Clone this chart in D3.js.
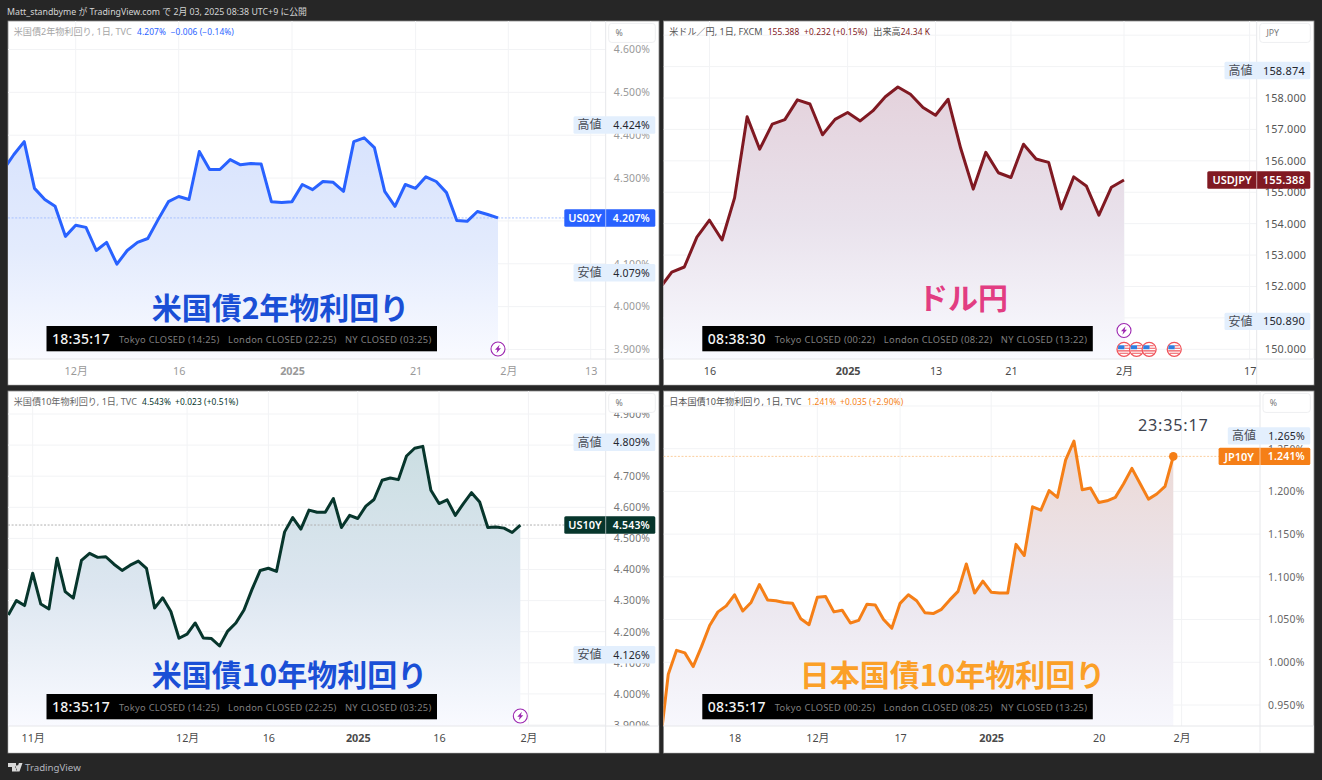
<!DOCTYPE html>
<html lang="ja">
<head>
<meta charset="utf-8">
<title>Yields and USDJPY</title>
<script src="https://cdn.jsdelivr.net/npm/d3@7"></script>
<style>
  html, body { margin: 0; padding: 0; background: #262626; }
  svg { display: block; }
  text { font-family: "Noto Sans", "Noto Sans CJK JP", sans-serif; }
  .big { font-family: "Noto Sans CJK JP", sans-serif; font-weight: 700; }
</style>
</head>
<body>
<svg id="chart" width="1322" height="780"></svg>
<script>
"use strict";

// --- 1. DATA ---
const us02yValues = [4.320, 4.355, 4.385, 4.276, 4.250, 4.234, 4.164, 4.190, 4.185, 4.131, 4.150, 4.099, 4.131, 4.150, 4.159, 4.203, 4.245, 4.257, 4.250, 4.362, 4.320, 4.320, 4.343, 4.331, 4.334, 4.333, 4.245, 4.243, 4.245, 4.285, 4.273, 4.292, 4.290, 4.269, 4.385, 4.394, 4.371, 4.269, 4.234, 4.285, 4.276, 4.303, 4.292, 4.266, 4.201, 4.199, 4.222, 4.215, 4.207];
const usdjpyValues = [151.92, 152.46, 152.62, 153.57, 154.11, 153.48, 154.82, 157.40, 156.37, 157.17, 157.31, 157.94, 157.81, 156.83, 157.32, 157.54, 157.27, 157.59, 158.04, 158.35, 158.12, 157.70, 157.45, 157.96, 156.40, 155.10, 156.27, 155.62, 155.47, 156.53, 156.06, 155.95, 154.47, 155.49, 155.20, 154.27, 155.16, 155.388];
const us10yValues = [4.254, 4.300, 4.284, 4.388, 4.289, 4.273, 4.436, 4.329, 4.308, 4.429, 4.452, 4.439, 4.441, 4.417, 4.397, 4.414, 4.427, 4.404, 4.276, 4.309, 4.265, 4.179, 4.192, 4.228, 4.180, 4.178, 4.154, 4.202, 4.228, 4.270, 4.337, 4.397, 4.404, 4.394, 4.521, 4.567, 4.530, 4.591, 4.584, 4.584, 4.628, 4.535, 4.574, 4.564, 4.604, 4.625, 4.687, 4.694, 4.689, 4.765, 4.790, 4.796, 4.655, 4.612, 4.624, 4.574, 4.612, 4.647, 4.617, 4.535, 4.537, 4.533, 4.519, 4.543];
const jp10yValues = [0.903, 0.986, 1.014, 1.011, 0.995, 1.018, 1.043, 1.059, 1.066, 1.079, 1.060, 1.070, 1.091, 1.073, 1.072, 1.070, 1.069, 1.051, 1.044, 1.076, 1.077, 1.059, 1.061, 1.046, 1.049, 1.068, 1.067, 1.050, 1.040, 1.069, 1.079, 1.072, 1.058, 1.057, 1.062, 1.073, 1.083, 1.115, 1.081, 1.095, 1.082, 1.081, 1.081, 1.138, 1.125, 1.182, 1.178, 1.201, 1.193, 1.237, 1.259, 1.202, 1.204, 1.187, 1.189, 1.193, 1.209, 1.227, 1.209, 1.191, 1.197, 1.206, 1.241];

// labelled price ticks, and levels that only get a grid line (their labels sit under the tags)
const us02yPriceTicks = [3.9, 4.0, 4.1, 4.3, 4.4, 4.5, 4.6];
const us02yGridOnly = [4.2];
const usdjpyPriceTicks = [150, 152, 153, 154, 155, 156, 157, 158];
const usdjpyGridOnly = [151, 159, 160];
const us10yPriceTicks = [3.9, 4.0, 4.1, 4.2, 4.3, 4.4, 4.5, 4.6, 4.7, 4.9];
const us10yGridOnly = [4.8];
const jp10yPriceTicks = [0.95, 1.0, 1.05, 1.1, 1.15, 1.2, 1.25];
const jp10yGridOnly = [1.3];

// bar index of each date label
const us02yTimeIdx = [7, 17, 28, 40, 49, 57];
const us02yTimeLabels = ["12月", "16", "2025", "21", "2月", "13"];
const usdjpyTimeIdx = [4, 15, 22, 28, 37, 47];
const usdjpyTimeLabels = ["16", "2025", "13", "21", "2月", "17"];
const us10yTimeIdx = [3, 22, 32, 43, 53, 64];
const us10yTimeLabels = ["11月", "12月", "16", "2025", "16", "2月"];
const jp10yTimeIdx = [9, 19, 29, 40, 53, 63];
const jp10yTimeLabels = ["18", "12月", "17", "2025", "20", "2月"];

// --- 2. PANELS ---
const panels = [
  {
    values: us02yValues, priceTicks: us02yPriceTicks, gridOnly: us02yGridOnly, timeIdx: us02yTimeIdx, timeLabels: us02yTimeLabels,
    box: { l: 8, t: 21, r: 659, b: 385, axisX: 605.7, axisY: 359 },
    xRange: [3.6, 498], yDomain: [3.9, 4.6], yRange: [349.5, 49.5], suffix: "%",
    color: "#2962ff", fill: ["#d8e3fd", "#e3ebfd", "#f9faff"], tickColor: "#999", timeColor: "#999",
    symbol: "US02Y", last: 4.207, hi: 4.424, lo: 4.079, unit: "%", dashed: "#a9c1ff",
    hiText: "4.424%", loText: "4.079%", lastText: "4.207%",
    legend: "米国債2年物利回り, 1日, TVC", legendColor: "#a6a6a6", legendParts: [["4.207%", 137], ["−0.006 (−0.14%)", 170.7]],
    title: "米国債2年物利回り", titleColor: "#1a4fd6", titleX: 280.5, titleY: 319,
    clock: "18:35:17", cities: ["Tokyo CLOSED (14:25)", "London CLOSED (22:25)", "NY CLOSED (03:25)"],
    clockBox: [46.5, 326], bolts: [48], flags: []
  },
  {
    values: usdjpyValues, priceTicks: usdjpyPriceTicks, gridOnly: usdjpyGridOnly, timeIdx: usdjpyTimeIdx, timeLabels: usdjpyTimeLabels,
    box: { l: 663.5, t: 21, r: 1314, b: 385, axisX: 1256.7, axisY: 359 },
    xRange: [659.2, 1124], yDomain: [150, 158], yRange: [349.3, 98], suffix: "",
    color: "#801922", fill: ["#e4d2dc", "#e9e2ec", "#f9faff"], tickColor: "#555", timeColor: "#4a4a4a",
    symbol: "USDJPY", last: 155.388, hi: 158.874, lo: 150.89, unit: "JPY", dashed: null,
    hiText: "158.874", loText: "150.890", lastText: "155.388",
    legend: "米ドル／円, 1日, FXCM", legendColor: "#555", legendParts: [["155.388", 767.7], ["+0.232 (+0.15%)", 804], ["24.34 K", 900.7]],
    legendExtra: ["出来高", 873.3],
    title: "ドル円", titleColor: "#e23d82", titleX: 963, titleY: 309,
    clock: "08:38:30", cities: ["Tokyo CLOSED (00:22)", "London CLOSED (08:22)", "NY CLOSED (13:22)"],
    clockBox: [702.3, 326], bolts: [37], flags: [37, 38, 39, 41]
  },
  {
    values: us10yValues, priceTicks: us10yPriceTicks, gridOnly: us10yGridOnly, timeIdx: us10yTimeIdx, timeLabels: us10yTimeLabels,
    box: { l: 8, t: 391, r: 659, b: 753, axisX: 605.7, axisY: 726 },
    xRange: [8.3, 520.3], yDomain: [3.9, 4.9], yRange: [725, 414], suffix: "%",
    color: "#07362c", fill: ["#cbdee2", "#dce6f0", "#f9faff"], tickColor: "#777", timeColor: "#4a4a4a",
    symbol: "US10Y", last: 4.543, hi: 4.809, lo: 4.126, unit: "%", dashed: "#b0b0b0",
    hiText: "4.809%", loText: "4.126%", lastText: "4.543%",
    legend: "米国債10年物利回り, 1日, TVC", legendColor: "#666", legendParts: [["4.543%", 142], ["+0.023 (+0.51%)", 175]],
    title: "米国債10年物利回り", titleColor: "#1a4fd6", titleX: 289.5, titleY: 686,
    clock: "18:35:17", cities: ["Tokyo CLOSED (14:25)", "London CLOSED (22:25)", "NY CLOSED (03:25)"],
    clockBox: [46.5, 694], bolts: [63], flags: []
  },
  {
    values: jp10yValues, priceTicks: jp10yPriceTicks, gridOnly: jp10yGridOnly, timeIdx: jp10yTimeIdx, timeLabels: jp10yTimeLabels,
    box: { l: 663.5, t: 391, r: 1314, b: 753, axisX: 1260, axisY: 726 },
    xRange: [660, 1173.3], yDomain: [0.95, 1.25], yRange: [705, 448.7], suffix: "%",
    color: "#f57f17", fill: ["#ecd8d4", "#ebe6ee", "#f9faff"], tickColor: "#666", timeColor: "#4a4a4a",
    symbol: "JP10Y", last: 1.241, hi: 1.265, lo: null, unit: "%", dashed: "#fbcf9f",
    hiText: "1.265%", loText: null, lastText: "1.241%",
    legend: "日本国債10年物利回り, 1日, TVC", legendColor: "#555", legendParts: [["1.241%", 807.3], ["+0.035 (+2.90%)", 840]],
    title: "日本国債10年物利回り", titleColor: "#fba028", titleX: 952.5, titleY: 686,
    clock: "08:35:17", cities: ["Tokyo CLOSED (00:25)", "London CLOSED (08:25)", "NY CLOSED (13:25)"],
    clockBox: [702.3, 694], bolts: [], flags: [], dot: true, countdown: "23:35:17"
  }
];

const svg = d3.select("#chart");
const defs = svg.append("defs");

// --- 3. PAGE CHROME ---
svg.append("text").attr("x", 7).attr("y", 14.5).attr("fill", "#d4d4d4")
  .style("font-size", "8.8px")
  .text("Matt_standbyme が TradingView.com で 2月 03, 2025 08:38 UTC+9 に公開");

svg.append("path").attr("fill", "#d8d8d8")
  .attr("d", "M8 763h8v8.5h-4V767H8z M17.3 765.2a1.9 1.9 0 1 0 0.01 0z M22.5 763h-3.6l-3 8.5h3.6z");
svg.append("text").attr("x", 25).attr("y", 771).attr("fill", "#b2b5be")
  .style("font-size", "9.7px").text("TradingView");

// --- 4. DRAW EACH PANEL ---
panels.forEach((p, n) => drawPanel(p, n));

function drawPanel(p, n) {
  const b = p.box;
  const g = svg.append("g");
  const x = d3.scaleLinear().domain([0, p.values.length - 1]).range(p.xRange);
  const y = d3.scaleLinear().domain(p.yDomain).range(p.yRange);

  g.append("rect").attr("x", b.l).attr("y", b.t).attr("width", b.r - b.l).attr("height", b.b - b.t)
    .attr("fill", "#fff").attr("stroke", "#8a8a8a").attr("stroke-width", 0.8);

  defs.append("clipPath").attr("id", "plot" + n).append("rect")
    .attr("x", b.l).attr("y", b.t).attr("width", b.axisX - b.l).attr("height", b.axisY - b.t);

  const grad = defs.append("linearGradient").attr("id", "fill" + n)
    .attr("x1", 0).attr("y1", 0).attr("x2", 0).attr("y2", 1);
  p.fill.forEach((c, i) => grad.append("stop").attr("offset", i / 2).attr("stop-color", c));

  const plot = g.append("g").attr("clip-path", `url(#plot${n})`);

  // grid
  plot.selectAll(".hg").data(p.priceTicks.concat(p.gridOnly)).enter().append("line")
    .attr("x1", b.l).attr("x2", b.axisX).attr("y1", d => y(d)).attr("y2", d => y(d))
    .attr("stroke", "#f2f3f5");
  plot.selectAll(".vg").data(p.timeIdx).enter().append("line")
    .attr("x1", d => x(d)).attr("x2", d => x(d)).attr("y1", b.t).attr("y2", b.axisY)
    .attr("stroke", "#f2f3f5");

  // area + line
  const idx = p.values.map((v, i) => i);
  plot.append("path").datum(idx).attr("fill", `url(#fill${n})`)
    .attr("d", d3.area().x(i => x(i)).y0(b.axisY).y1(i => y(p.values[i])));

  if (p.dashed) {
    plot.append("line").attr("x1", b.l).attr("x2", b.axisX)
      .attr("y1", y(p.last)).attr("y2", y(p.last))
      .attr("stroke", p.dashed).attr("stroke-dasharray", "2 1.6");
  }

  plot.append("path").datum(idx).attr("fill", "none").attr("stroke", p.color)
    .attr("stroke-width", 3).attr("stroke-linejoin", "round")
    .attr("d", d3.line().x(i => x(i)).y(i => y(p.values[i])));

  if (p.dot) {
    plot.append("circle").attr("cx", x(p.values.length - 1)).attr("cy", y(p.last))
      .attr("r", 4.3).attr("fill", p.color);
    g.append("text").attr("x", x(p.values.length - 1)).attr("y", 431).attr("text-anchor", "middle")
      .attr("fill", "#3f4450").style("font-size", "16.2px").style("letter-spacing", "0.8px")
      .text(p.countdown);
  }

  // title over the plot
  g.append("text").attr("class", "big").attr("x", p.titleX).attr("y", p.titleY)
    .attr("text-anchor", "middle").attr("fill", p.titleColor)
    .style("font-size", "30px").text(p.title);

  // clock strip
  const cx = p.clockBox[0], cy = p.clockBox[1];
  g.append("rect").attr("x", cx).attr("y", cy).attr("width", 390.5).attr("height", 25.3).attr("fill", "#000");
  g.append("text").attr("x", cx + 5.5).attr("y", cy + 18).attr("fill", "#f4f4f4")
    .style("font-size", "14px").style("font-weight", 500).style("letter-spacing", "0.3px").text(p.clock);
  [72.5, 181.5, 298.5].forEach((dx, i) => {
    g.append("text").attr("x", cx + dx).attr("y", cy + 16.5).attr("fill", "#7f7f7f")
      .style("font-size", "9.3px").style("letter-spacing", "0.3px").text(p.cities[i]);
  });

  // price axis
  const priceAxis = d3.axisLeft(y).tickValues(p.priceTicks).tickSize(0).tickPadding(0)
    .tickFormat(d => d.toFixed(3) + p.suffix);
  const yg = g.append("g").attr("transform", `translate(${b.axisX + (p.suffix ? 44.5 : 49.5)},0)`).call(priceAxis);
  yg.select(".domain").remove();
  yg.selectAll("text").attr("fill", p.tickColor)
    .style("font-size", p.suffix ? "10.4px" : "10.8px").style("font-family", '"Noto Sans", sans-serif')
    .style("letter-spacing", "0.2px");

  // time strip hides labels that run past the axis
  g.append("rect").attr("x", b.l + 0.5).attr("y", b.axisY).attr("width", b.r - b.l - 1).attr("height", b.b - b.axisY - 0.5).attr("fill", "#fff");
  g.append("line").attr("x1", b.l).attr("x2", b.r).attr("y1", b.axisY).attr("y2", b.axisY).attr("stroke", "#e6e7ea");
  g.append("line").attr("x1", b.axisX).attr("x2", b.axisX).attr("y1", b.t).attr("y2", b.b).attr("stroke", "#e6e7ea");

  const timeAxis = d3.axisBottom(x).tickValues(p.timeIdx).tickSize(0).tickPadding(0)
    .tickFormat(d => p.timeLabels[p.timeIdx.indexOf(d)]);
  const xg = g.append("g").attr("transform", `translate(0,${b.axisY + 8.5})`).call(timeAxis);
  xg.select(".domain").remove();
  xg.selectAll("text").attr("fill", p.timeColor).style("font-size", "10.8px")
    .style("font-weight", d => p.timeLabels[p.timeIdx.indexOf(d)] === "2025" ? 700 : 400);

  // event markers
  p.bolts.forEach(i => drawBolt(g, x(i), b.axisY - (p.flags.length ? 28.5 : 10)));
  p.flags.forEach(i => drawFlag(g, x(i), b.axisY - 9.7));

  // unit box
  const ux = b.axisX + 3;
  g.append("rect").attr("x", ux).attr("y", b.t + 2.4).attr("width", b.r - 3.7 - ux).attr("height", 19)
    .attr("rx", 3).attr("fill", "#fff").attr("stroke", "#eeeff1");
  g.append("text").attr("x", ux + 6.7).attr("y", b.t + 15).attr("fill", "#777")
    .style("font-size", "8.8px").text(p.unit);

  // price labels
  if (p.hi !== null) priceTag(g, p, y(p.hi), "高値", p.hiText, "#e3effd", "#4a4e58", "#23262e");
  if (p.lo !== null) priceTag(g, p, y(p.lo), "安値", p.loText, "#e3effd", "#4a4e58", "#23262e");
  priceTag(g, p, y(p.last), p.symbol, p.lastText, p.color, "#fff", "#fff");

  // legend
  const ly = b.t + 13.8;
  g.append("text").attr("x", b.l + 5.7).attr("y", ly).attr("fill", p.legendColor)
    .style("font-size", "9.1px").text(p.legend);
  p.legendParts.forEach(d => {
    g.append("text").attr("x", d[1]).attr("y", ly).attr("fill", p.color)
      .style("font-size", "8.4px").style("letter-spacing", "0.1px").text(d[0]);
  });
  if (p.legendExtra) {
    g.append("text").attr("x", p.legendExtra[1]).attr("y", ly).attr("fill", p.legendColor)
      .style("font-size", "9.1px").text(p.legendExtra[0]);
  }
}

// --- 5. HELPERS ---
function priceTag(g, p, cy, name, value, bg, nameColor, valueColor) {
  const b = p.box;
  const solid = name !== "高値" && name !== "安値";
  const right = b.r - 3.7;
  // width of the name cell follows the text, as on the original
  const nameW = solid ? (name === "USDJPY" ? 49.4 : 41.4) : 32.2;
  const left = b.axisX - nameW;
  g.append("rect").attr("x", left).attr("y", cy - 8.7).attr("width", right - left).attr("height", 17.4)
    .attr("rx", 1.5).attr("fill", bg);
  if (solid) {
    g.append("line").attr("x1", b.axisX).attr("x2", b.axisX).attr("y1", cy - 8.7).attr("y2", cy + 8.7)
      .attr("stroke", "#fff").attr("stroke-opacity", 0.6);
  }
  g.append("text").attr("x", left + nameW / 2).attr("y", cy + 4.2).attr("text-anchor", "middle")
    .attr("fill", nameColor).style("font-size", solid ? "11px" : "12px")
    .style("font-weight", solid ? 600 : 400).text(name);
  g.append("text").attr("x", right - 5.3).attr("y", cy + 4).attr("text-anchor", "end")
    .attr("fill", valueColor).style("font-size", p.suffix ? "10.5px" : "11px").style("font-family", '"Noto Sans", sans-serif')
    .style("font-weight", solid ? 600 : 400).style("letter-spacing", "0.2px").text(value);
}

function drawBolt(g, cx, cy) {
  const m = g.append("g").attr("transform", `translate(${cx},${cy})`);
  m.append("circle").attr("r", 7).attr("fill", "#fff").attr("stroke", "#9c27b0").attr("stroke-width", 1.1);
  m.append("path").attr("fill", "#9c27b0").attr("d", "M1.6 -4.2 L-3 0.8 H-0.6 L-1.6 4.2 L3 -0.8 H0.6 Z");
}

function drawFlag(g, cx, cy) {
  const m = g.append("g").attr("transform", `translate(${cx},${cy})`);
  m.append("circle").attr("r", 7).attr("fill", "#fff").attr("stroke", "#f0535a").attr("stroke-width", 1.3);
  m.append("path").attr("fill", "#2f7fe0").attr("d", "M-5.5 -4 H0.5 V0 H-6 Q-6 -2.4 -5.5 -4Z");
  m.append("path").attr("fill", "none").attr("stroke", "#f0535a").attr("stroke-width", 1.1)
    .attr("d", "M0.5 -3.6 H4.6 M0.5 -1 H6 M-6 1.6 H6 M-4.6 4 H4.6");
}
</script>
</body>
</html>
